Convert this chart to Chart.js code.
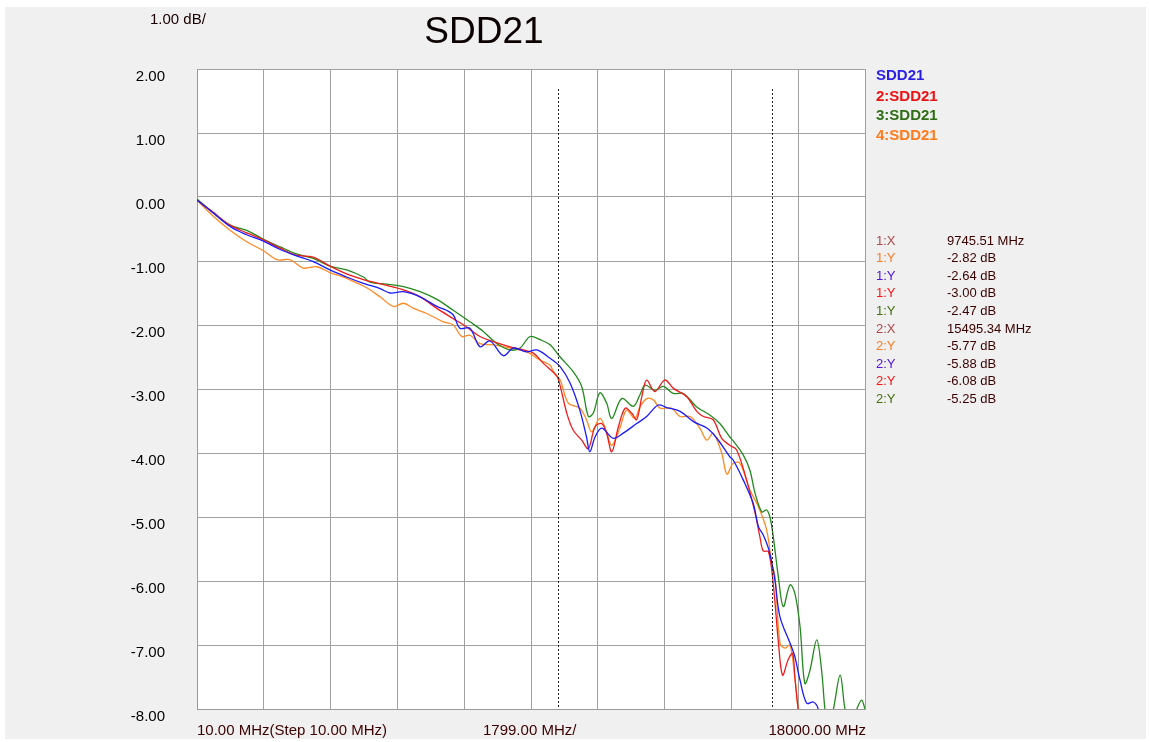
<!DOCTYPE html>
<html lang="en">
<head>
  <meta charset="UTF-8">
  <title>SDD21</title>
  <script src="https://cdn.jsdelivr.net/npm/chart.js"></script>
  <style>
    body { margin: 0; background: #fff; }
    canvas { display: block; }
  </style>
</head>
<body>
  <canvas id="sddChart" width="1149" height="742"></canvas>

  <script>
    // axis setup
    const startFreq = 10;
    const stepFreq = 1799;
    const stopFreq = 18000;
    const xTicks = [10, 1809, 3608, 5407, 7206, 9005, 10804, 12603, 14402, 16201, 18000];
    const markerFreqs = [9745.51, 15495.34];

    // trace 1: SDD21 (blue)
    const blueFreq = [10, 450, 900, 1350, 1800, 2250, 2690, 3140, 3590, 4040, 4490, 4670, 4940, 5210, 5570,
      6020, 6470, 6730, 6910, 7090, 7360, 7630, 7900, 8260, 8530, 8890, 9160, 9520, 9790, 10060,
      10320, 10500, 10590, 10730, 10910, 11220, 11490, 11850, 12120, 12430, 12660, 13020, 13380, 13740, 14010,
      14360, 14450, 14720, 14990, 15130, 15260, 15400, 15530, 15580, 15710, 15980, 16110, 16250, 16430, 16610,
      16740, 17000];
    const blueDb = [-0.05, -0.25, -0.46, -0.59, -0.69, -0.82, -0.92, -1.01, -1.14, -1.25, -1.35, -1.38, -1.43, -1.50, -1.48,
      -1.56, -1.71, -1.77, -1.84, -2.05, -2.05, -2.34, -2.25, -2.48, -2.36, -2.42, -2.39, -2.52, -2.65, -2.91,
      -3.33, -3.75, -3.98, -3.75, -3.61, -3.77, -3.69, -3.54, -3.43, -3.25, -3.29, -3.35, -3.51, -3.61, -3.77,
      -4.06, -4.11, -4.42, -4.79, -5.15, -5.28, -5.49, -5.83, -6.01, -6.56, -6.97, -7.18, -7.55, -7.91, -7.89,
      -8.00, -8.80];

    // trace 2 (red)
    const redFreq = [10, 450, 900, 1350, 1800, 2250, 2690, 3140, 3590, 4040, 4490, 4670, 5120, 5570, 6020,
      6470, 6910, 7270, 7630, 7990, 8440, 8800, 9070, 9340, 9700, 9790, 9970, 10140, 10370, 10550,
      10730, 10910, 11040, 11180, 11360, 11540, 11720, 11850, 11990, 12120, 12340, 12610, 12840, 13200, 13470,
      13650, 13910, 14140, 14360, 14540, 14810, 15040, 15170, 15260, 15400, 15530, 15670, 15780, 15930, 16050,
      16110, 16200, 16350];
    const redDb = [-0.05, -0.24, -0.44, -0.56, -0.67, -0.80, -0.91, -0.94, -1.08, -1.20, -1.29, -1.32, -1.38, -1.45, -1.56,
      -1.74, -1.90, -2.03, -2.18, -2.26, -2.34, -2.39, -2.44, -2.60, -2.80, -2.95, -3.38, -3.64, -3.80, -3.93,
      -3.59, -3.54, -3.69, -3.98, -3.59, -3.30, -3.38, -3.48, -3.12, -2.86, -3.04, -2.86, -2.99, -3.12, -3.35,
      -3.43, -3.48, -3.77, -3.88, -3.95, -4.42, -4.94, -5.31, -5.53, -5.54, -6.05, -6.97, -7.47, -7.23, -7.13,
      -7.50, -8.00, -8.60];

    // trace 3 (green)
    const greenFreq = [10, 450, 900, 1350, 1800, 2250, 2690, 3140, 3590, 4040, 4490, 4670, 5120, 5570, 6020,
      6470, 6910, 7360, 7720, 8080, 8440, 8710, 8980, 9250, 9520, 9790, 10140, 10370, 10550, 10680,
      10860, 11040, 11180, 11450, 11760, 11940, 12080, 12340, 12570, 12840, 13110, 13470, 13830, 14090, 14360,
      14450, 14720, 14900, 15040, 15220, 15350, 15440, 15530, 15670, 15800, 15980, 16110, 16250, 16380, 16520,
      16700, 16830, 16920, 17000, 17150, 17330, 17460, 17600, 17780, 17910, 18000];
    const greenDb = [-0.03, -0.25, -0.44, -0.52, -0.66, -0.78, -0.89, -0.96, -1.08, -1.14, -1.25, -1.33, -1.36, -1.40, -1.48,
      -1.60, -1.77, -1.95, -2.10, -2.29, -2.39, -2.36, -2.18, -2.23, -2.31, -2.50, -2.73, -2.96, -3.43, -3.38,
      -3.06, -3.22, -3.46, -3.15, -3.27, -3.09, -2.94, -3.02, -2.96, -3.07, -3.07, -3.28, -3.41, -3.54, -3.75,
      -3.81, -4.03, -4.27, -4.63, -4.92, -4.89, -5.00, -5.31, -5.95, -6.40, -6.06, -6.19, -6.71, -7.60, -7.39,
      -6.92, -7.39, -8.00, -8.30, -8.00, -7.47, -8.00, -8.30, -8.00, -7.86, -8.00];

    // trace 4 (orange)
    const orangeFreq = [10, 450, 900, 1350, 1800, 2160, 2510, 2870, 3230, 3590, 4040, 4490, 4670, 4940, 5300,
      5570, 5840, 6200, 6640, 6910, 7140, 7360, 7630, 7990, 8440, 8890, 9250, 9520, 9610, 9790,
      10010, 10320, 10500, 10640, 10860, 11040, 11180, 11400, 11580, 11800, 11940, 12120, 12300, 12480, 12790,
      13020, 13290, 13560, 13740, 13910, 14140, 14280, 14450, 14630, 14900, 15130, 15350, 15490, 15580, 15710,
      15850, 15980, 16110, 16200, 16350];
    const orangeDb = [-0.05, -0.30, -0.52, -0.70, -0.84, -0.98, -0.98, -1.11, -1.09, -1.18, -1.27, -1.39, -1.45, -1.56, -1.71,
      -1.66, -1.74, -1.82, -1.95, -2.00, -2.18, -2.16, -2.29, -2.31, -2.36, -2.42, -2.55, -2.63, -2.73, -2.86,
      -3.22, -3.30, -3.48, -3.67, -3.46, -3.67, -3.88, -3.61, -3.33, -3.46, -3.28, -3.15, -3.17, -3.30, -3.30,
      -3.43, -3.43, -3.62, -3.80, -3.69, -4.00, -4.33, -4.16, -4.16, -4.58, -4.84, -5.20, -5.72, -5.95, -6.97,
      -7.05, -7.00, -7.50, -8.00, -8.60];

    const legendLabels = ['SDD21', '2:SDD21', '3:SDD21', '4:SDD21'];
    const markerLabels = ['1:X', '1:Y', '1:Y', '1:Y', '1:Y', '2:X', '2:Y', '2:Y', '2:Y', '2:Y'];
    const markerValues = ['9745.51 MHz', '-2.82 dB', '-2.64 dB', '-3.00 dB', '-2.47 dB',
      '15495.34 MHz', '-5.77 dB', '-5.88 dB', '-6.08 dB', '-5.25 dB'];

    const BLUE = '#1a1aff';
    const RED = '#ee1c1c';
    const GREEN = '#238a1e';
    const ORANGE = '#ff8a24';
    const FONT = '"Liberation Sans", Arial, sans-serif';

    const toPoints = (xs, ys) => xs.map((x, i) => ({ x: x, y: ys[i] }));

    const legendColors = ['#2a1ee6', '#ee1111', '#2e6e14', '#ff7a1a'];
    const markerColors = ['#b04848', '#ff7a1e', '#5212e0', '#ff1414', '#437010',
      '#b04848', '#ff7a1e', '#5212e0', '#ff1414', '#437010'];

    const decorPlugin = {
      id: 'decor',
      beforeDraw(chart) {
        const { ctx, chartArea: a } = chart;
        ctx.save();
        ctx.fillStyle = '#ffffff';
        ctx.fillRect(0, 0, chart.width, chart.height);
        ctx.fillStyle = '#f0f0f0';
        ctx.fillRect(5, 7, chart.width - 8, chart.height - 10);
        ctx.fillStyle = '#ffffff';
        ctx.fillRect(a.left, a.top, a.right - a.left, a.bottom - a.top);
        ctx.restore();
      },
      afterDatasetsDraw(chart) {
        const { ctx, chartArea: a, scales } = chart;
        ctx.save();
        ctx.strokeStyle = '#222';
        ctx.lineWidth = 1;
        ctx.setLineDash([2, 2]);
        markerFreqs.forEach(f => {
          const px = Math.round(scales.x.getPixelForValue(f)) + 0.5;
          ctx.beginPath();
          ctx.moveTo(px, a.top + 20);
          ctx.lineTo(px, a.bottom);
          ctx.stroke();
        });
        ctx.restore();
      },
      afterDraw(chart) {
        const { ctx, chartArea: a } = chart;
        ctx.save();
        ctx.textBaseline = 'middle';

        ctx.fillStyle = '#0a0000';
        ctx.font = '37px ' + FONT;
        ctx.textAlign = 'center';
        ctx.fillText('SDD21', 484, 33);

        ctx.font = '15px ' + FONT;
        ctx.textAlign = 'left';
        ctx.fillStyle = '#1a0000';
        ctx.fillText('1.00 dB/', 150, 20);

        // bottom labels
        ctx.fillStyle = '#3c0000';
        ctx.fillText('10.00 MHz(Step 10.00 MHz)', a.left, 731);
        ctx.fillText('1799.00 MHz/', 483, 731);
        ctx.textAlign = 'right';
        ctx.fillText('18000.00 MHz', a.right + 1, 731);

        // legend
        ctx.textAlign = 'left';
        ctx.font = 'bold 15px ' + FONT;
        const legendY = [76, 97, 116, 136];
        legendLabels.forEach((t, i) => {
          ctx.fillStyle = legendColors[i];
          ctx.fillText(t, 876, legendY[i]);
        });

        // marker readout
        ctx.font = '13px ' + FONT;
        markerLabels.forEach((t, i) => {
          const y = 241 + i * 17.6;
          ctx.fillStyle = markerColors[i];
          ctx.fillText(t, 876, y);
          ctx.fillStyle = '#3a0000';
          ctx.fillText(markerValues[i], 947, y);
        });
        ctx.restore();
      }
    };

    const ctx = document.getElementById('sddChart').getContext('2d');
    new Chart(ctx, {
      type: 'line',
      data: {
        datasets: [
          { label: 'SDD21', data: toPoints(blueFreq, blueDb), borderColor: BLUE },
          { label: '2:SDD21', data: toPoints(redFreq, redDb), borderColor: RED },
          { label: '3:SDD21', data: toPoints(greenFreq, greenDb), borderColor: GREEN },
          { label: '4:SDD21', data: toPoints(orangeFreq, orangeDb), borderColor: ORANGE }
        ]
      },
      options: {
        responsive: false,
        animation: false,
        devicePixelRatio: 1,
        layout: { padding: { top: 69, right: 284, bottom: 33, left: 0 } },
        elements: {
          line: { borderWidth: 1.3, tension: 0.35, fill: false },
          point: { radius: 0 }
        },
        plugins: {
          legend: { display: false },
          tooltip: { enabled: false }
        },
        scales: {
          x: {
            type: 'linear',
            min: startFreq,
            max: stopFreq,
            afterBuildTicks: s => { s.ticks = xTicks.map(v => ({ value: v })); },
            afterFit: s => { s.height = 0; s.paddingLeft = 0; s.paddingRight = 0; },
            ticks: { display: false },
            grid: { color: '#a0a0a0', drawTicks: false },
            border: { color: '#9a9a9a' }
          },
          y: {
            min: -8,
            max: 2,
            // fixed axis width; drop the label overhang so the plot keeps its full height
            afterFit: s => { s.width = 197; s.paddingTop = 0; s.paddingBottom = 0; },
            ticks: {
              stepSize: 1,
              callback: v => v.toFixed(2),
              color: '#000',
              font: { family: FONT, size: 15 },
              padding: 32,
              labelOffset: 8
            },
            grid: { color: '#a0a0a0', drawTicks: false },
            border: { color: '#9a9a9a' }
          }
        }
      },
      plugins: [decorPlugin]
    });
  </script>
</body>
</html>
